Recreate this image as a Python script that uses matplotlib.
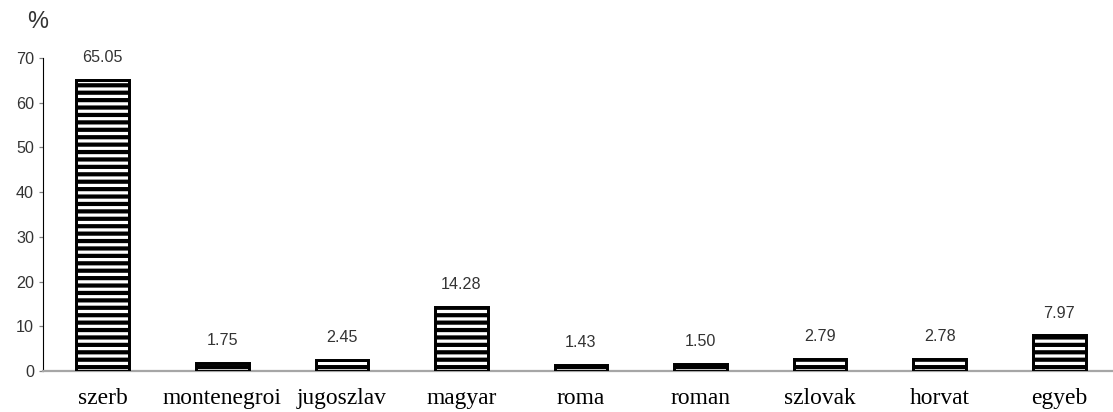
import matplotlib
matplotlib.use("Agg")
import matplotlib.pyplot as plt

groups = ["szerb", "montenegroi", "jugoszlav", "magyar", "roma",
          "roman", "szlovak", "horvat", "egyeb"]
shares = [65.05, 1.75, 2.45, 14.28, 1.43, 1.50, 2.79, 2.78, 7.97]
y_ticks = [0, 10, 20, 30, 40, 50, 60, 70]

plt.rcParams['font.family'] = ['Liberation Sans', 'DejaVu Sans']
plt.rcParams['hatch.linewidth'] = 3.4

dpi = 89
fig = plt.figure(figsize=(1113 / dpi, 412 / dpi), dpi=dpi)
ax = fig.add_axes([43 / 1113, 41 / 412, 1070 / 1113, 313 / 412])

bars = ax.bar(range(len(groups)), shares, width=0.44, color='white',
              edgecolor='black', linewidth=2.4, hatch='--', zorder=3)

ax.set_xlim(-0.5, 8.45)
ax.set_ylim(0, 70)
ax.set_yticks(y_ticks)
ax.set_xticks(range(len(groups)))
ax.set_xticklabels(groups, fontfamily='Liberation Serif', fontsize=19)

for side in ['top', 'right']:
    ax.spines[side].set_visible(False)
ax.spines['bottom'].set_color('#a6a6a6')
ax.spines['bottom'].set_linewidth(1.8)
ax.spines['left'].set_color('black')
ax.spines['left'].set_linewidth(0.9)

ax.tick_params(axis='x', length=0, pad=14)
ax.tick_params(axis='y', length=3.2, width=1, color='#808080', pad=4,
               labelsize=13, labelcolor='#333333')

ax.bar_label(bars, labels=[f"{v:.2f}" for v in shares], padding=12,
             fontsize=13, color='#333333')

fig.text(38 / 1113, 1 - 22 / 412, "%", ha='center', va='center',
         fontsize=19, color='#333333')

fig.savefig('out.png', dpi=dpi)
